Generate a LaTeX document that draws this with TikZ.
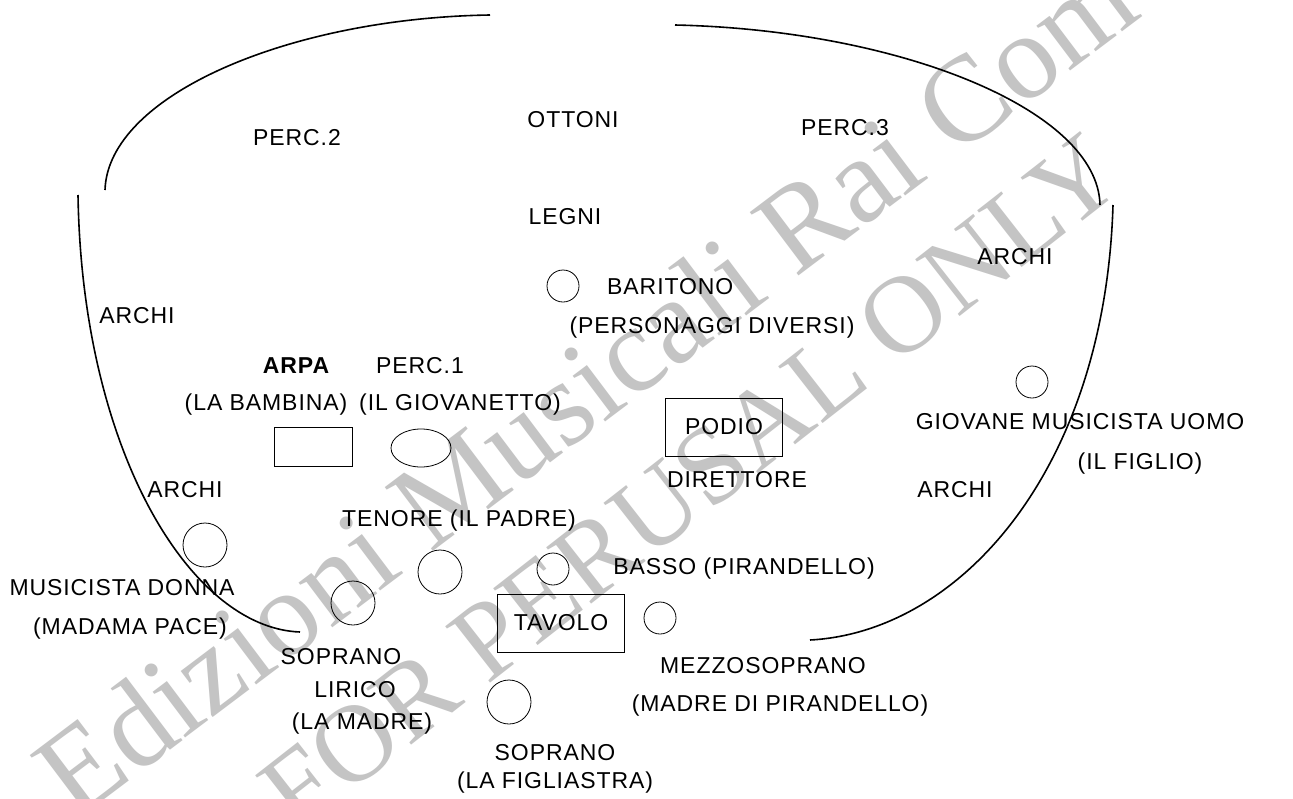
\documentclass[tikz,border=0pt]{standalone}
\usepackage{fontspec}
\setmainfont{Liberation Sans}[LetterSpace=4]
\newfontfamily\wmfont{Liberation Serif}
\usepackage{xcolor}
\usepackage{tikz}
\usetikzlibrary{positioning, shapes.geometric}
\definecolor{wmgray}{RGB}{196,196,196}
\begin{document}
\begin{tikzpicture}[
  x=1pt, y=-1pt,
  lbl/.style={inner sep=0pt, font=\fontsize{23pt}{26pt}\selectfont},
  seat/.style={circle, draw, thick, inner sep=0pt, minimum width=40pt, minimum height=44pt},
  sseat/.style={circle, draw, thick, inner sep=0pt, minimum width=30pt, minimum height=32pt},
  box/.style={rectangle, draw, thick, inner sep=0pt, font=\fontsize{23pt}{26pt}\selectfont},
  shell/.style={line width=1.6pt},
  wm/.style={wmgray, font=\wmfont\fontsize{122pt}{130pt}\selectfont, inner sep=0pt},
]
\useasboundingbox (0,0) rectangle (1293,798);
\fill[white] (0,0) rectangle (1293,798);

% Watermark
\node[wm, rotate=37] (wm1) at (585,385) {Edizioni Musicali Rai Com};
\node[wm, rotate=38, font=\wmfont\fontsize{110pt}{120pt}\selectfont] (wm2) at (690,482) {FOR PERUSAL ONLY};

% Stage shell
\draw[shell] (105,190) .. controls (108,95) and (290,18) .. (490,15);
\draw[shell] (675,25) .. controls (900,30) and (1098,110) .. (1100,205);
\draw[shell] (78,195) .. controls (82,450) and (190,628) .. (300,632);
\draw[shell] (1113,205) .. controls (1105,470) and (960,632) .. (810,640);

% Orchestra
\node[lbl] (perc2) at (297,138) {PERC.2};
\node[lbl] (ottoni) at (573,120) {OTTONI};
\node[lbl] (perc3) at (845,128) {PERC.3};
\node[lbl] (legni) at (565,217) {LEGNI};
\node[lbl] (archiA) at (1015,257) {ARCHI};
\node[lbl] (archiB) at (137,316) {ARCHI};
\node[lbl] (archiC) at (185,490) {ARCHI};
\node[lbl] (archiD) at (955,490) {ARCHI};

% Harp and percussion
\node[lbl, font=\bfseries\fontsize{23pt}{26pt}\selectfont] (arpa) at (296,366) {ARPA};
\node[lbl] (bambina) at (266,405) {(LA BAMBINA)};
\node[box, minimum width=78pt, minimum height=39pt] (arpabox) at (313,447) {};
\node[lbl] (perc1) at (420,366) {PERC.1};
\node[lbl] (giovanetto) at (460,405) {(IL GIOVANETTO)};
\node[ellipse, draw, thick, minimum width=60pt, minimum height=38pt] (perc1seat) at (421,448) {};

% Conductor
\node[box, minimum width=117pt, minimum height=58pt] (podio) at (724,427) {PODIO};
\node[lbl] (direttore) at (737,480) {DIRETTORE};

% Singers
\node[sseat] (baritono) at (563,286) {};
\node[lbl, anchor=west] (baritonolbl) at (607,287) {BARITONO};
\node[lbl] (personaggi) at (712,328) {(PERSONAGGI DIVERSI)};

\node[sseat, minimum width=28pt] (figlio) at (1032,382) {};
\node[lbl] (giovane) at (1080,422) {GIOVANE MUSICISTA UOMO};
\node[lbl] (figliolbl) at (1140,464) {(IL FIGLIO)};

\node[lbl] (tenorelbl) at (459,521) {TENORE (IL PADRE)};
\node[seat] (tenore) at (440,572) {};

\node[sseat] (basso) at (553,569) {};
\node[lbl] (bassolbl) at (744,569) {BASSO (PIRANDELLO)};

\node[box, minimum width=127pt, minimum height=58pt] (tavolo) at (561,623) {TAVOLO};
\node[sseat] (mezzo) at (660,618) {};
\node[lbl] (mezzolbl) at (763,666) {MEZZOSOPRANO};
\node[lbl] (madrepir) at (780,706) {(MADRE DI PIRANDELLO)};

\node[seat] (madama) at (205,545) {};
\node[lbl] (donna) at (122,588) {MUSICISTA DONNA};
\node[lbl] (madamalbl) at (130,629) {(MADAMA PACE)};

\node[seat] (lirico) at (353,603) {};
\node[lbl] (liricoA) at (341,657) {SOPRANO};
\node[lbl] (liricoB) at (355,690) {LIRICO};
\node[lbl] (liricoC) at (362,724) {(LA MADRE)};

\node[seat] (soprano) at (509,702) {};
\node[lbl] (sopranoA) at (555,753) {SOPRANO};
\node[lbl] (sopranoB) at (555,783) {(LA FIGLIASTRA)};
\end{tikzpicture}
\end{document}
